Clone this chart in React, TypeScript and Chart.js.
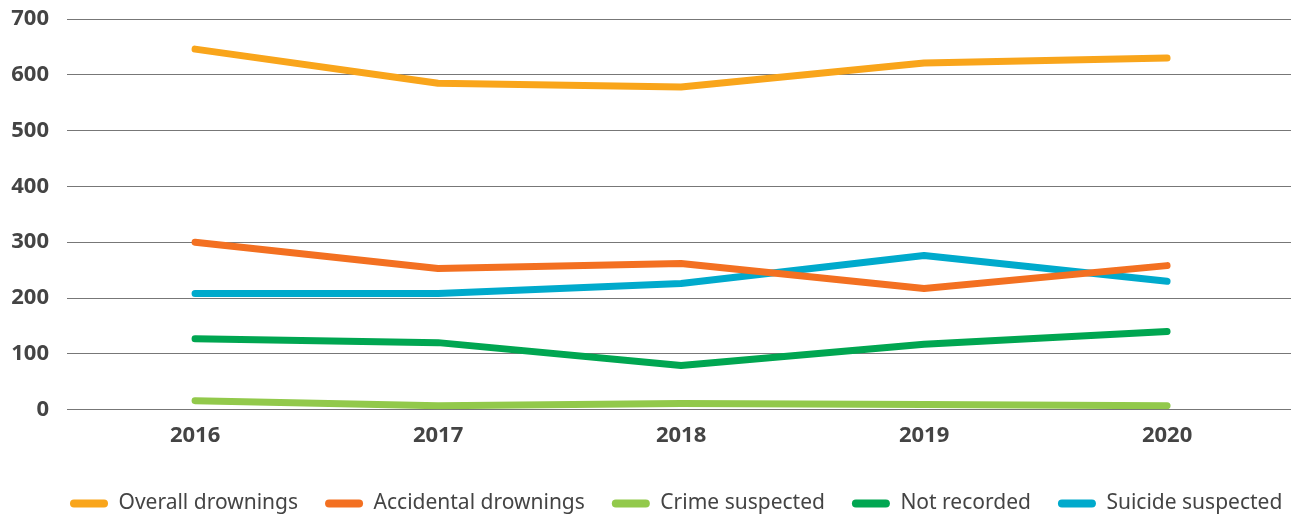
import React, { useEffect, useRef } from "react";
import { Chart, registerables } from "chart.js";
Chart.register(...registerables);

const years = [2016, 2017, 2018, 2019, 2020];
const overall = [646, 585, 578, 621, 630];
const accidental = [300, 253, 262, 217, 258];
const crime = [16, 7, 11, 9, 7];
const notRecorded = [127, 120, 79, 117, 140];
const suicide = [208, 208, 226, 276, 230];
const yTicks = [0, 100, 200, 300, 400, 500, 600, 700];

const series = [
  { label: "Overall drownings", data: overall, color: "#F9A51B" },
  { label: "Accidental drownings", data: accidental, color: "#F37021" },
  { label: "Crime suspected", data: crime, color: "#92C94B" },
  { label: "Not recorded", data: notRecorded, color: "#00A651" },
  { label: "Suicide suspected", data: suicide, color: "#00AACC" },
];

const legendShift = {
  id: "legendShift",
  afterLayout(chart: any) {
    const lg = chart.legend;
    if (lg) {
      lg.left += 43;
      lg.right += 43;
    }
  },
};

export default function App() {
  const ref = useRef<HTMLCanvasElement>(null);
  useEffect(() => {
    document.body.style.margin = "0";
    const chart = new Chart(ref.current!, {
      type: "line",
      plugins: [legendShift],
      data: {
        datasets: series.map((s) => ({
          label: s.label,
          data: years.map((y, i) => ({ x: y, y: s.data[i] })),
          borderColor: s.color,
          backgroundColor: s.color,
          borderWidth: 7,
          borderCapStyle: "round",
          borderJoinStyle: "round",
          pointRadius: 0,
          tension: 0,
        })),
      },
      options: {
        animation: false,
        responsive: false,
        layout: { padding: { top: 19, right: 12, left: 0, bottom: -8 } },
        plugins: {
          tooltip: { enabled: false },
          legend: {
            position: "bottom",
            align: "start",
            labels: {
              boxWidth: 38,
              boxHeight: 8,
              useBorderRadius: true,
              borderRadius: 4,
              padding: 27,
              color: "#444",
              font: { family: "Noto Sans", size: 21 },
              generateLabels: (c) =>
                c.data.datasets.map((d: any, i: number) => ({
                  text: d.label,
                  fillStyle: d.borderColor,
                  strokeStyle: d.borderColor,
                  lineWidth: 0,
                  borderRadius: 4,
                  hidden: false,
                  datasetIndex: i,
                  fontColor: "#444",
                })),
            },
          },
        },
        scales: {
          x: {
            type: "linear",
            min: 2015.473,
            max: 2020.51,
            afterBuildTicks: (axis: any) => {
              axis.ticks = years.map((v) => ({ value: v }));
            },
            afterFit: (scale: any) => {
              scale.height += 12;
              scale.paddingLeft = 0;
              scale.paddingRight = 0;
            },
            ticks: {
              color: "#444",
              font: { family: "Open Sans", size: 22, weight: "bold" },
              padding: 5,
              callback: (v: any) => String(v),
            },
            grid: { display: false },
            border: { display: false },
          },
          y: {
            min: 0,
            max: 700,
            afterBuildTicks: (axis: any) => {
              axis.ticks = yTicks.map((v) => ({ value: v }));
            },
            afterFit: (scale: any) => {
              scale.width = 67;
              scale.paddingTop = 0;
              scale.paddingBottom = 0;
            },
            ticks: {
              color: "#444",
              font: { family: "Open Sans", size: 22, weight: "bold" },
              padding: 18,
            },
            grid: { color: "#777", lineWidth: 1, drawTicks: false },
            border: { display: false },
          },
        },
      },
    });
    return () => chart.destroy();
  }, []);
  return <canvas ref={ref} width={1303} height={516} style={{ display: "block" }} />;
}
